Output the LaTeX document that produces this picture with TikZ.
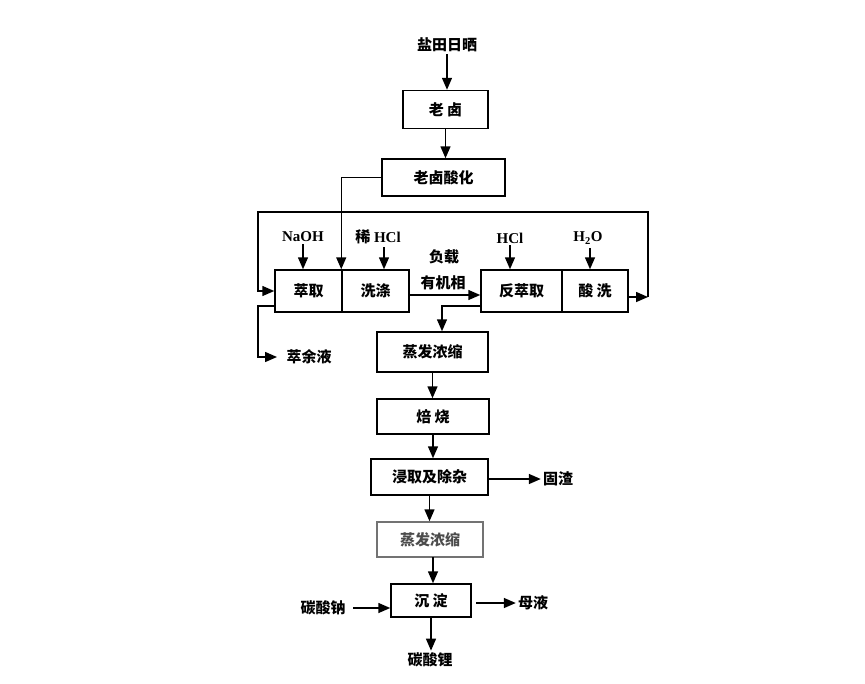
\documentclass[tikz,border=0pt]{standalone}
\usepackage{fontspec}
\setmainfont{Liberation Serif}
\newfontfamily\cjk{Noto Sans CJK SC}
\usetikzlibrary{arrows.meta,calc}
\begin{document}
\begin{tikzpicture}[x=1pt,y=-1pt,
  every node/.style={font=\fontsize{15pt}{17pt}\selectfont\bfseries},
  box/.style={draw,line width=1.5pt,inner sep=0pt,font=\cjk\fontsize{15pt}{17pt}\selectfont\bfseries},
  lab/.style={inner sep=2pt,font=\cjk\fontsize{15pt}{17pt}\selectfont\bfseries},
  chem/.style={inner sep=2pt,font=\fontsize{15pt}{17pt}\selectfont\bfseries},
  arr/.style={line width=1.5pt,-{Triangle[length=12pt,width=10pt]}}]
\useasboundingbox[fill=white] (0,0) rectangle (865,683);
% boxes
\node[box,minimum width=85pt,minimum height=38pt] (laolu) at (445.5,109.5) {老\ 卤};
\node[box,minimum width=123pt,minimum height=37pt] (suanhua) at (443.5,177.5) {老卤酸化};
\node[box,minimum width=67pt,minimum height=42pt] (cuiqu) at (308.5,291) {萃取};
\node[box,minimum width=67pt,minimum height=42pt] (xidi) at (375.5,291) {洗涤};
\node[box,minimum width=81pt,minimum height=42pt] (fancui) at (521.5,291) {反萃取};
\node[box,minimum width=66pt,minimum height=42pt] (suanxi) at (595,291) {酸\ 洗};
\node[box,minimum width=111pt,minimum height=40pt] (zf1) at (432.5,352) {蒸发浓缩};
\node[box,minimum width=112pt,minimum height=35pt] (beishao) at (433,416.5) {焙\ 烧};
\node[box,minimum width=117pt,minimum height=36pt] (jinqu) at (429.5,477) {浸取及除杂};
\node[box,minimum width=106pt,minimum height=35pt,draw=black!55,text=black!70] (zf2) at (430,539.5) {蒸发浓缩};
\node[box,minimum width=80pt,minimum height=33pt] (chendian) at (431,600.5) {沉\ 淀};
% labels
\node[lab] (yantian) at (447,45) {盐田日晒};
\node[chem] (naoh) at (303,237) {NaOH};
\node[chem] (xihcl) at (378,237) {{\cjk 稀} HCl};
\node[chem] (hcl) at (510,238) {HCl};
\node[chem] (h2o) at (588,238) {H\textsubscript{2}O};
\node[lab] (fuzai) at (444,257) {负载};
\node[lab] (youji) at (443,283) {有机相};
\node[lab] (cuiyu) at (309,357) {萃余液};
\node[lab] (guzha) at (558,479) {固渣};
\node[lab] (tsna) at (323,608) {碳酸钠};
\node[lab] (muye) at (533,603) {母液};
\node[lab] (tsli) at (430,660) {碳酸锂};
% coordinates
\coordinate (R) at (648,297);
\coordinate (TL) at (258,212);
\coordinate (BL) at (258,306);
\coordinate (FB) at (442,306);
\coordinate (xh) at (384,247);
\coordinate (ho) at (590,248);
\coordinate (z2) at (433,557);
\coordinate (tn) at (353,608);
\coordinate (cy) at (277,357);
\coordinate (my) at (476,603);
% connectors
\draw[arr] (yantian.south) -- (yantian.south |- laolu.north);
\draw[arr] (laolu.south) -- (laolu.south |- suanhua.north);
\draw[arr] (suanhua.west) -| (xidi.north west);
\draw[arr] (naoh.south) -- (naoh.south |- cuiqu.north);
\draw[arr] (xh) -- (xh |- xidi.north);
\draw[arr] (hcl.south) -- (hcl.south |- fancui.north);
\draw[arr] (ho) -- (ho |- suanxi.north);
\draw[arr] ($(xidi.east)+(0,4)$) -- ($(fancui.west)+(0,4)$);
\draw[arr] ($(suanxi.east)+(0,6)$) -- (R);
\draw[arr] (R) |- (TL) |- (cuiqu.west);
\draw[arr] (cuiqu.west |- BL) -- (BL) |- (cy);
\draw[arr] (fancui.west |- FB) -- (FB) -- (FB |- zf1.north);
\draw[arr] (zf1.south) -- (zf1.south |- beishao.north);
\draw[arr] (beishao.south) -- (beishao.south |- jinqu.north);
\draw[arr] (jinqu.east |- guzha.west) -- (guzha.west);
\draw[arr] (jinqu.south) -- (jinqu.south |- zf2.north);
\draw[arr] (z2) -- (z2 |- chendian.north);
\draw[arr] (tn) -- (tn -| chendian.west);
\draw[arr] (my) -- (muye.west);
\draw[arr] (chendian.south) -- (chendian.south |- tsli.north);
\end{tikzpicture}
\end{document}
